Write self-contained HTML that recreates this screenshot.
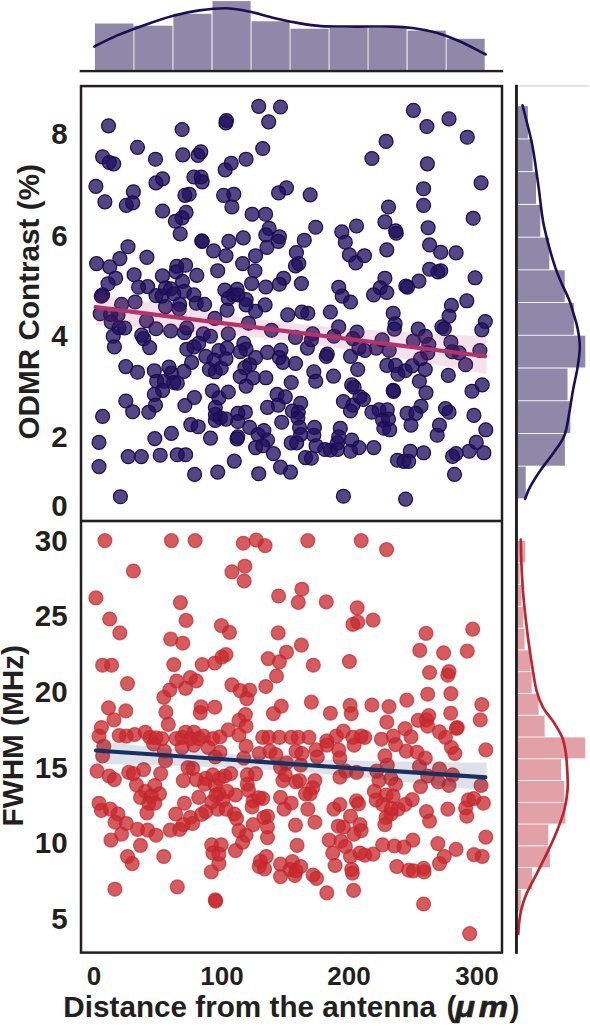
<!DOCTYPE html><html><head><meta charset="utf-8"><style>
html,body{margin:0;padding:0;background:#fff}body{width:590px;height:1026px;overflow:hidden}
svg{display:block}text{font-family:"Liberation Sans",sans-serif;font-weight:bold;fill:#231f20}
</style></head><body>
<svg width="590" height="1026" viewBox="0 0 590 1026">
<rect width="590" height="1026" fill="#fff"/>
<g fill="#8f88a9">
<rect x="94.9" y="23.5" width="38.6" height="47.0"/>
<rect x="134.4" y="25.7" width="38.1" height="44.8"/>
<rect x="173.4" y="13.8" width="38.1" height="56.7"/>
<rect x="212.5" y="1.1" width="38.1" height="69.4"/>
<rect x="251.5" y="21.3" width="38.1" height="49.2"/>
<rect x="290.5" y="28.7" width="38.1" height="41.8"/>
<rect x="329.5" y="28.0" width="38.1" height="42.5"/>
<rect x="368.5" y="28.0" width="38.1" height="42.5"/>
<rect x="407.6" y="30.6" width="38.1" height="39.9"/>
<rect x="446.6" y="38.8" width="38.1" height="31.7"/>
</g>
<path d="M94.2,46.6 C98.0,44.7 109.1,38.9 117.3,35.4 C125.5,31.9 134.1,28.7 143.4,25.4 C152.7,22.1 163.9,18.2 173.2,15.7 C182.5,13.2 190.6,11.7 199.3,10.4 C208.0,9.2 217.3,8.1 225.4,8.2 C233.5,8.3 239.7,9.6 247.8,11.2 C255.9,12.8 265.4,15.9 273.9,17.9 C282.4,19.9 290.8,21.7 298.6,23.1 C306.5,24.5 311.7,25.5 321.0,26.1 C330.3,26.7 342.8,26.5 354.6,26.6 C366.4,26.7 382.0,26.3 391.9,26.6 C401.8,26.9 406.8,27.3 414.2,28.3 C421.6,29.3 429.1,30.7 436.6,32.8 C444.1,34.9 450.8,37.4 459.0,41.0 C467.2,44.6 481.3,52.2 485.8,54.4" fill="none" stroke="#1b0f52" stroke-width="2.6" stroke-linecap="round"/>
<rect x="79.7" y="69.9" width="423.5" height="2.4" fill="#231f20"/>
<g fill="#8f88a9">
<rect x="517.5" y="106.2" width="10.4" height="32.3"/>
<rect x="517.5" y="139.4" width="15.1" height="31.8"/>
<rect x="517.5" y="172.1" width="18.5" height="31.8"/>
<rect x="517.5" y="204.9" width="22.8" height="31.8"/>
<rect x="517.5" y="237.6" width="31.8" height="31.8"/>
<rect x="517.5" y="270.3" width="47.2" height="31.8"/>
<rect x="517.5" y="303.0" width="56.4" height="31.8"/>
<rect x="517.5" y="335.7" width="67.8" height="31.8"/>
<rect x="517.5" y="368.5" width="50.0" height="31.8"/>
<rect x="517.5" y="401.2" width="52.8" height="31.8"/>
<rect x="517.5" y="433.9" width="47.4" height="31.8"/>
<rect x="517.5" y="466.6" width="8.2" height="31.8"/>
</g>
<path d="M522.5,105.3 C524.1,111.8 529.4,130.7 532.1,144.3 C534.8,157.9 536.6,173.5 538.6,187.1 C540.6,200.7 541.0,212.1 543.9,225.7 C546.8,239.3 551.6,256.5 555.7,268.6 C559.8,280.8 565.7,291.5 568.6,298.6 C571.5,305.7 571.4,306.4 572.9,311.4 C574.4,316.4 576.5,322.7 577.6,328.6 C578.8,334.5 579.8,340.6 579.8,347.0 C579.8,353.4 578.8,359.8 577.6,367.1 C576.5,374.4 574.3,382.8 572.9,390.7 C571.5,398.6 570.4,406.8 569.0,414.3 C567.6,421.8 566.9,429.3 564.3,435.7 C561.7,442.1 557.5,447.1 553.6,452.8 C549.7,458.5 544.6,464.3 540.7,470.0 C536.8,475.7 532.6,482.3 530.0,487.1 C527.4,491.9 525.9,496.9 525.1,498.9" fill="none" stroke="#1b0f52" stroke-width="2.6" stroke-linecap="round"/>
<g fill="#e2a1a6">
<rect x="517.5" y="541.0" width="7.8" height="21.4"/>
<rect x="517.5" y="563.3" width="2.2" height="20.9"/>
<rect x="517.5" y="585.0" width="3.9" height="20.9"/>
<rect x="517.5" y="606.8" width="5.6" height="20.9"/>
<rect x="517.5" y="628.6" width="7.1" height="20.9"/>
<rect x="517.5" y="650.4" width="12.9" height="20.9"/>
<rect x="517.5" y="672.1" width="14.2" height="20.9"/>
<rect x="517.5" y="693.9" width="21.1" height="20.9"/>
<rect x="517.5" y="715.7" width="27.1" height="20.9"/>
<rect x="517.5" y="737.4" width="67.8" height="20.9"/>
<rect x="517.5" y="759.2" width="43.6" height="20.9"/>
<rect x="517.5" y="781.0" width="46.8" height="20.9"/>
<rect x="517.5" y="802.7" width="47.9" height="20.9"/>
<rect x="517.5" y="824.5" width="30.7" height="20.9"/>
<rect x="517.5" y="846.3" width="32.4" height="20.9"/>
<rect x="517.5" y="868.0" width="14.6" height="20.9"/>
<rect x="517.5" y="889.8" width="3.3" height="20.9"/>
</g>
<path d="M520.8,539.7 C520.9,543.6 521.0,554.0 521.4,562.9 C521.8,571.8 522.4,583.6 523.1,592.9 C523.8,602.2 524.7,610.0 525.7,618.6 C526.7,627.2 527.8,636.4 528.9,644.3 C530.0,652.1 530.9,658.1 532.1,665.7 C533.4,673.3 534.6,683.1 536.4,690.0 C538.2,696.9 540.0,701.8 542.9,707.1 C545.8,712.5 550.4,717.1 553.6,722.1 C556.8,727.1 560.0,731.7 562.1,737.1 C564.2,742.5 565.1,747.9 566.0,754.3 C566.9,760.7 567.2,769.6 567.5,775.7 C567.8,781.8 568.0,785.0 567.5,790.7 C567.0,796.4 566.1,803.2 564.3,810.0 C562.5,816.8 559.7,824.2 556.8,831.4 C553.9,838.5 550.5,845.8 547.1,852.9 C543.7,860.0 540.0,867.2 536.4,874.3 C532.8,881.4 528.2,889.8 525.7,895.7 C523.2,901.7 522.3,905.6 521.2,910.0 C520.1,914.4 519.7,918.0 519.2,922.0 C518.7,926.0 518.4,932.0 518.3,934.0" fill="none" stroke="#bb2530" stroke-width="2.7" stroke-linecap="round"/>
<rect x="518" y="85.5" width="71" height="1" fill="#c9c9c9"/>
<rect x="515" y="84.8" width="2.9" height="869" fill="#231f20"/>
<g fill="#1e0f5c" fill-opacity="0.77" stroke="#1c0d55" stroke-opacity="1" stroke-width="1.25">
<circle cx="108.5" cy="125.8" r="6.95"/>
<circle cx="182.1" cy="129.5" r="6.95"/>
<circle cx="137.5" cy="147.3" r="6.95"/>
<circle cx="102.6" cy="156.8" r="6.95"/>
<circle cx="109.2" cy="162.5" r="6.95"/>
<circle cx="113.7" cy="163.8" r="6.95"/>
<circle cx="155.5" cy="159.2" r="6.95"/>
<circle cx="182.8" cy="154.9" r="6.95"/>
<circle cx="198.0" cy="155.4" r="6.95"/>
<circle cx="200.8" cy="151.8" r="6.95"/>
<circle cx="162.6" cy="178.8" r="6.95"/>
<circle cx="156.0" cy="182.9" r="6.95"/>
<circle cx="193.9" cy="177.0" r="6.95"/>
<circle cx="201.1" cy="177.0" r="6.95"/>
<circle cx="202.2" cy="181.8" r="6.95"/>
<circle cx="95.9" cy="186.3" r="6.95"/>
<circle cx="133.4" cy="191.8" r="6.95"/>
<circle cx="189.2" cy="194.2" r="6.95"/>
<circle cx="184.9" cy="195.3" r="6.95"/>
<circle cx="258.7" cy="106.3" r="6.95"/>
<circle cx="280.5" cy="107.0" r="6.95"/>
<circle cx="268.7" cy="121.8" r="6.95"/>
<circle cx="226.4" cy="120.5" r="6.95"/>
<circle cx="225.9" cy="122.8" r="6.95"/>
<circle cx="262.7" cy="148.5" r="6.95"/>
<circle cx="246.1" cy="159.2" r="6.95"/>
<circle cx="231.2" cy="163.2" r="6.95"/>
<circle cx="225.2" cy="169.9" r="6.95"/>
<circle cx="286.5" cy="187.8" r="6.95"/>
<circle cx="278.6" cy="192.9" r="6.95"/>
<circle cx="310.2" cy="194.8" r="6.95"/>
<circle cx="233.8" cy="194.2" r="6.95"/>
<circle cx="223.6" cy="195.3" r="6.95"/>
<circle cx="413.4" cy="110.3" r="6.95"/>
<circle cx="449.0" cy="118.9" r="6.95"/>
<circle cx="426.9" cy="126.5" r="6.95"/>
<circle cx="467.3" cy="137.2" r="6.95"/>
<circle cx="386.1" cy="141.4" r="6.95"/>
<circle cx="371.9" cy="158.5" r="6.95"/>
<circle cx="427.4" cy="163.8" r="6.95"/>
<circle cx="481.1" cy="182.8" r="6.95"/>
<circle cx="423.6" cy="188.7" r="6.95"/>
<circle cx="104.9" cy="201.8" r="6.95"/>
<circle cx="126.3" cy="205.3" r="6.95"/>
<circle cx="132.7" cy="202.9" r="6.95"/>
<circle cx="162.6" cy="211.0" r="6.95"/>
<circle cx="186.1" cy="212.4" r="6.95"/>
<circle cx="182.1" cy="217.8" r="6.95"/>
<circle cx="175.4" cy="221.2" r="6.95"/>
<circle cx="180.2" cy="233.8" r="6.95"/>
<circle cx="201.8" cy="240.9" r="6.95"/>
<circle cx="202.2" cy="241.5" r="6.95"/>
<circle cx="213.6" cy="250.9" r="6.95"/>
<circle cx="128.0" cy="246.7" r="6.95"/>
<circle cx="119.9" cy="258.6" r="6.95"/>
<circle cx="146.9" cy="257.4" r="6.95"/>
<circle cx="96.6" cy="263.6" r="6.95"/>
<circle cx="109.7" cy="266.9" r="6.95"/>
<circle cx="185.6" cy="265.2" r="6.95"/>
<circle cx="176.8" cy="266.4" r="6.95"/>
<circle cx="176.1" cy="271.9" r="6.95"/>
<circle cx="217.7" cy="270.7" r="6.95"/>
<circle cx="196.8" cy="275.4" r="6.95"/>
<circle cx="134.1" cy="274.7" r="6.95"/>
<circle cx="162.4" cy="275.9" r="6.95"/>
<circle cx="115.6" cy="278.2" r="6.95"/>
<circle cx="108.0" cy="283.7" r="6.95"/>
<circle cx="182.5" cy="281.4" r="6.95"/>
<circle cx="138.6" cy="287.2" r="6.95"/>
<circle cx="147.7" cy="286.6" r="6.95"/>
<circle cx="165.5" cy="287.8" r="6.95"/>
<circle cx="170.7" cy="288.9" r="6.95"/>
<circle cx="184.4" cy="291.2" r="6.95"/>
<circle cx="102.6" cy="294.9" r="6.95"/>
<circle cx="156.0" cy="295.6" r="6.95"/>
<circle cx="161.9" cy="296.1" r="6.95"/>
<circle cx="173.8" cy="293.7" r="6.95"/>
<circle cx="193.9" cy="294.9" r="6.95"/>
<circle cx="135.1" cy="302.0" r="6.95"/>
<circle cx="121.6" cy="304.4" r="6.95"/>
<circle cx="196.3" cy="303.2" r="6.95"/>
<circle cx="204.6" cy="304.4" r="6.95"/>
<circle cx="179.7" cy="304.4" r="6.95"/>
<circle cx="231.9" cy="207.0" r="6.95"/>
<circle cx="252.1" cy="214.2" r="6.95"/>
<circle cx="265.6" cy="214.2" r="6.95"/>
<circle cx="269.1" cy="228.3" r="6.95"/>
<circle cx="265.8" cy="234.8" r="6.95"/>
<circle cx="279.4" cy="236.7" r="6.95"/>
<circle cx="278.2" cy="241.4" r="6.95"/>
<circle cx="267.0" cy="247.3" r="6.95"/>
<circle cx="315.7" cy="227.2" r="6.95"/>
<circle cx="304.3" cy="240.2" r="6.95"/>
<circle cx="296.4" cy="252.5" r="6.95"/>
<circle cx="298.8" cy="263.6" r="6.95"/>
<circle cx="295.5" cy="265.9" r="6.95"/>
<circle cx="243.3" cy="237.8" r="6.95"/>
<circle cx="228.8" cy="241.4" r="6.95"/>
<circle cx="255.6" cy="255.7" r="6.95"/>
<circle cx="226.0" cy="255.7" r="6.95"/>
<circle cx="242.6" cy="263.6" r="6.95"/>
<circle cx="254.9" cy="270.7" r="6.95"/>
<circle cx="283.6" cy="278.2" r="6.95"/>
<circle cx="279.4" cy="284.2" r="6.95"/>
<circle cx="301.4" cy="283.5" r="6.95"/>
<circle cx="251.6" cy="283.5" r="6.95"/>
<circle cx="265.8" cy="287.0" r="6.95"/>
<circle cx="341.8" cy="231.9" r="6.95"/>
<circle cx="356.5" cy="226.0" r="6.95"/>
<circle cx="345.3" cy="242.2" r="6.95"/>
<circle cx="349.4" cy="254.9" r="6.95"/>
<circle cx="355.8" cy="262.8" r="6.95"/>
<circle cx="338.7" cy="287.2" r="6.95"/>
<circle cx="342.2" cy="296.1" r="6.95"/>
<circle cx="350.5" cy="302.0" r="6.95"/>
<circle cx="237.1" cy="289.4" r="6.95"/>
<circle cx="224.8" cy="290.1" r="6.95"/>
<circle cx="233.1" cy="294.9" r="6.95"/>
<circle cx="228.3" cy="298.4" r="6.95"/>
<circle cx="237.8" cy="294.9" r="6.95"/>
<circle cx="246.1" cy="299.6" r="6.95"/>
<circle cx="246.1" cy="304.9" r="6.95"/>
<circle cx="265.1" cy="304.9" r="6.95"/>
<circle cx="388.5" cy="207.0" r="6.95"/>
<circle cx="423.6" cy="205.3" r="6.95"/>
<circle cx="473.2" cy="218.2" r="6.95"/>
<circle cx="384.9" cy="221.9" r="6.95"/>
<circle cx="395.6" cy="230.8" r="6.95"/>
<circle cx="396.3" cy="233.2" r="6.95"/>
<circle cx="428.1" cy="227.7" r="6.95"/>
<circle cx="429.6" cy="244.9" r="6.95"/>
<circle cx="440.7" cy="252.2" r="6.95"/>
<circle cx="456.1" cy="252.8" r="6.95"/>
<circle cx="386.8" cy="249.8" r="6.95"/>
<circle cx="364.4" cy="255.7" r="6.95"/>
<circle cx="429.6" cy="269.2" r="6.95"/>
<circle cx="437.9" cy="271.9" r="6.95"/>
<circle cx="440.7" cy="270.7" r="6.95"/>
<circle cx="475.1" cy="277.8" r="6.95"/>
<circle cx="384.9" cy="278.2" r="6.95"/>
<circle cx="418.9" cy="281.1" r="6.95"/>
<circle cx="405.8" cy="286.1" r="6.95"/>
<circle cx="407.5" cy="287.1" r="6.95"/>
<circle cx="380.2" cy="287.8" r="6.95"/>
<circle cx="386.8" cy="292.5" r="6.95"/>
<circle cx="373.6" cy="294.9" r="6.95"/>
<circle cx="466.8" cy="300.8" r="6.95"/>
<circle cx="451.4" cy="305.4" r="6.95"/>
<circle cx="100.2" cy="313.7" r="6.95"/>
<circle cx="111.2" cy="322.1" r="6.95"/>
<circle cx="118.0" cy="314.9" r="6.95"/>
<circle cx="119.1" cy="327.8" r="6.95"/>
<circle cx="124.7" cy="328.0" r="6.95"/>
<circle cx="113.2" cy="336.2" r="6.95"/>
<circle cx="114.4" cy="346.9" r="6.95"/>
<circle cx="146.5" cy="320.8" r="6.95"/>
<circle cx="156.0" cy="328.7" r="6.95"/>
<circle cx="141.7" cy="335.1" r="6.95"/>
<circle cx="143.6" cy="338.6" r="6.95"/>
<circle cx="149.6" cy="347.6" r="6.95"/>
<circle cx="170.7" cy="331.0" r="6.95"/>
<circle cx="186.8" cy="327.9" r="6.95"/>
<circle cx="184.4" cy="332.7" r="6.95"/>
<circle cx="203.4" cy="333.9" r="6.95"/>
<circle cx="210.5" cy="336.2" r="6.95"/>
<circle cx="214.8" cy="318.4" r="6.95"/>
<circle cx="186.8" cy="349.2" r="6.95"/>
<circle cx="193.9" cy="346.9" r="6.95"/>
<circle cx="198.7" cy="343.4" r="6.95"/>
<circle cx="205.8" cy="356.4" r="6.95"/>
<circle cx="191.6" cy="362.4" r="6.95"/>
<circle cx="214.1" cy="360.0" r="6.95"/>
<circle cx="218.9" cy="350.5" r="6.95"/>
<circle cx="125.8" cy="366.6" r="6.95"/>
<circle cx="137.5" cy="372.2" r="6.95"/>
<circle cx="154.3" cy="370.7" r="6.95"/>
<circle cx="169.0" cy="367.1" r="6.95"/>
<circle cx="171.4" cy="373.0" r="6.95"/>
<circle cx="184.0" cy="371.4" r="6.95"/>
<circle cx="156.7" cy="381.2" r="6.95"/>
<circle cx="164.3" cy="381.2" r="6.95"/>
<circle cx="173.8" cy="382.5" r="6.95"/>
<circle cx="177.3" cy="383.2" r="6.95"/>
<circle cx="162.6" cy="390.4" r="6.95"/>
<circle cx="154.3" cy="394.4" r="6.95"/>
<circle cx="125.8" cy="401.0" r="6.95"/>
<circle cx="132.7" cy="411.7" r="6.95"/>
<circle cx="155.5" cy="405.1" r="6.95"/>
<circle cx="148.8" cy="412.2" r="6.95"/>
<circle cx="194.4" cy="397.5" r="6.95"/>
<circle cx="184.9" cy="405.5" r="6.95"/>
<circle cx="212.4" cy="390.8" r="6.95"/>
<circle cx="209.4" cy="369.5" r="6.95"/>
<circle cx="215.3" cy="371.8" r="6.95"/>
<circle cx="221.2" cy="368.2" r="6.95"/>
<circle cx="215.3" cy="407.4" r="6.95"/>
<circle cx="218.9" cy="397.9" r="6.95"/>
<circle cx="102.6" cy="416.4" r="6.95"/>
<circle cx="165.5" cy="306.6" r="6.95"/>
<circle cx="179.2" cy="309.0" r="6.95"/>
<circle cx="227.1" cy="310.1" r="6.95"/>
<circle cx="255.6" cy="311.2" r="6.95"/>
<circle cx="287.7" cy="314.9" r="6.95"/>
<circle cx="301.9" cy="312.0" r="6.95"/>
<circle cx="307.8" cy="313.2" r="6.95"/>
<circle cx="330.4" cy="312.0" r="6.95"/>
<circle cx="248.5" cy="323.2" r="6.95"/>
<circle cx="228.3" cy="333.9" r="6.95"/>
<circle cx="271.5" cy="330.2" r="6.95"/>
<circle cx="295.5" cy="337.4" r="6.95"/>
<circle cx="312.6" cy="333.9" r="6.95"/>
<circle cx="311.4" cy="339.8" r="6.95"/>
<circle cx="307.4" cy="348.1" r="6.95"/>
<circle cx="338.7" cy="326.8" r="6.95"/>
<circle cx="333.9" cy="336.2" r="6.95"/>
<circle cx="357.0" cy="332.0" r="6.95"/>
<circle cx="352.9" cy="338.6" r="6.95"/>
<circle cx="327.3" cy="354.0" r="6.95"/>
<circle cx="326.3" cy="356.4" r="6.95"/>
<circle cx="350.5" cy="356.4" r="6.95"/>
<circle cx="358.9" cy="348.1" r="6.95"/>
<circle cx="243.8" cy="343.4" r="6.95"/>
<circle cx="246.1" cy="349.2" r="6.95"/>
<circle cx="240.2" cy="351.7" r="6.95"/>
<circle cx="227.1" cy="348.1" r="6.95"/>
<circle cx="226.0" cy="358.8" r="6.95"/>
<circle cx="267.5" cy="352.4" r="6.95"/>
<circle cx="281.0" cy="350.0" r="6.95"/>
<circle cx="279.4" cy="357.6" r="6.95"/>
<circle cx="282.9" cy="362.4" r="6.95"/>
<circle cx="295.5" cy="363.5" r="6.95"/>
<circle cx="255.6" cy="357.6" r="6.95"/>
<circle cx="249.7" cy="364.7" r="6.95"/>
<circle cx="244.9" cy="367.6" r="6.95"/>
<circle cx="240.2" cy="376.6" r="6.95"/>
<circle cx="253.2" cy="377.8" r="6.95"/>
<circle cx="265.8" cy="377.8" r="6.95"/>
<circle cx="246.1" cy="386.1" r="6.95"/>
<circle cx="291.2" cy="382.5" r="6.95"/>
<circle cx="313.8" cy="371.8" r="6.95"/>
<circle cx="315.7" cy="381.2" r="6.95"/>
<circle cx="333.5" cy="376.1" r="6.95"/>
<circle cx="357.7" cy="369.5" r="6.95"/>
<circle cx="351.7" cy="384.9" r="6.95"/>
<circle cx="354.1" cy="387.2" r="6.95"/>
<circle cx="228.3" cy="392.0" r="6.95"/>
<circle cx="277.0" cy="394.4" r="6.95"/>
<circle cx="285.3" cy="396.8" r="6.95"/>
<circle cx="278.2" cy="405.1" r="6.95"/>
<circle cx="267.5" cy="407.4" r="6.95"/>
<circle cx="300.7" cy="403.2" r="6.95"/>
<circle cx="292.4" cy="411.0" r="6.95"/>
<circle cx="298.3" cy="412.2" r="6.95"/>
<circle cx="343.4" cy="401.5" r="6.95"/>
<circle cx="352.9" cy="405.1" r="6.95"/>
<circle cx="350.5" cy="411.0" r="6.95"/>
<circle cx="360.0" cy="396.8" r="6.95"/>
<circle cx="245.4" cy="412.2" r="6.95"/>
<circle cx="237.8" cy="413.4" r="6.95"/>
<circle cx="393.2" cy="313.2" r="6.95"/>
<circle cx="395.1" cy="323.9" r="6.95"/>
<circle cx="394.4" cy="329.1" r="6.95"/>
<circle cx="382.1" cy="339.8" r="6.95"/>
<circle cx="376.2" cy="348.1" r="6.95"/>
<circle cx="389.2" cy="350.5" r="6.95"/>
<circle cx="364.8" cy="350.5" r="6.95"/>
<circle cx="418.2" cy="329.1" r="6.95"/>
<circle cx="425.3" cy="336.2" r="6.95"/>
<circle cx="413.4" cy="341.0" r="6.95"/>
<circle cx="428.8" cy="344.6" r="6.95"/>
<circle cx="427.7" cy="352.9" r="6.95"/>
<circle cx="420.5" cy="358.8" r="6.95"/>
<circle cx="441.9" cy="326.8" r="6.95"/>
<circle cx="444.3" cy="328.7" r="6.95"/>
<circle cx="449.0" cy="316.1" r="6.95"/>
<circle cx="450.9" cy="342.2" r="6.95"/>
<circle cx="452.1" cy="351.7" r="6.95"/>
<circle cx="459.2" cy="352.9" r="6.95"/>
<circle cx="465.6" cy="364.7" r="6.95"/>
<circle cx="479.9" cy="350.5" r="6.95"/>
<circle cx="485.3" cy="321.5" r="6.95"/>
<circle cx="481.8" cy="329.8" r="6.95"/>
<circle cx="386.8" cy="365.4" r="6.95"/>
<circle cx="395.6" cy="365.4" r="6.95"/>
<circle cx="398.0" cy="374.2" r="6.95"/>
<circle cx="405.1" cy="370.7" r="6.95"/>
<circle cx="412.2" cy="365.9" r="6.95"/>
<circle cx="425.3" cy="369.5" r="6.95"/>
<circle cx="419.4" cy="381.2" r="6.95"/>
<circle cx="426.0" cy="392.7" r="6.95"/>
<circle cx="448.3" cy="375.4" r="6.95"/>
<circle cx="393.2" cy="390.4" r="6.95"/>
<circle cx="393.6" cy="391.4" r="6.95"/>
<circle cx="482.2" cy="384.9" r="6.95"/>
<circle cx="472.0" cy="391.2" r="6.95"/>
<circle cx="421.0" cy="406.2" r="6.95"/>
<circle cx="445.5" cy="408.6" r="6.95"/>
<circle cx="449.0" cy="412.2" r="6.95"/>
<circle cx="387.3" cy="409.8" r="6.95"/>
<circle cx="379.0" cy="409.8" r="6.95"/>
<circle cx="371.9" cy="412.2" r="6.95"/>
<circle cx="363.4" cy="399.4" r="6.95"/>
<circle cx="407.0" cy="413.4" r="6.95"/>
<circle cx="415.8" cy="413.4" r="6.95"/>
<circle cx="473.9" cy="415.4" r="6.95"/>
<circle cx="99.0" cy="442.4" r="6.95"/>
<circle cx="99.0" cy="466.6" r="6.95"/>
<circle cx="128.2" cy="456.6" r="6.95"/>
<circle cx="141.3" cy="456.6" r="6.95"/>
<circle cx="154.8" cy="438.6" r="6.95"/>
<circle cx="171.4" cy="433.4" r="6.95"/>
<circle cx="160.2" cy="455.2" r="6.95"/>
<circle cx="177.3" cy="454.7" r="6.95"/>
<circle cx="185.6" cy="454.7" r="6.95"/>
<circle cx="190.8" cy="424.6" r="6.95"/>
<circle cx="198.2" cy="426.7" r="6.95"/>
<circle cx="210.5" cy="438.1" r="6.95"/>
<circle cx="215.3" cy="420.4" r="6.95"/>
<circle cx="215.4" cy="414.4" r="6.95"/>
<circle cx="220.4" cy="417.9" r="6.95"/>
<circle cx="194.6" cy="474.4" r="6.95"/>
<circle cx="217.7" cy="472.1" r="6.95"/>
<circle cx="120.4" cy="496.7" r="6.95"/>
<circle cx="226.0" cy="419.1" r="6.95"/>
<circle cx="237.8" cy="421.5" r="6.95"/>
<circle cx="249.7" cy="427.4" r="6.95"/>
<circle cx="237.8" cy="436.9" r="6.95"/>
<circle cx="237.0" cy="438.9" r="6.95"/>
<circle cx="258.0" cy="434.6" r="6.95"/>
<circle cx="263.9" cy="430.5" r="6.95"/>
<circle cx="267.5" cy="440.0" r="6.95"/>
<circle cx="255.6" cy="447.6" r="6.95"/>
<circle cx="262.7" cy="445.7" r="6.95"/>
<circle cx="273.4" cy="453.6" r="6.95"/>
<circle cx="281.7" cy="422.2" r="6.95"/>
<circle cx="297.9" cy="418.0" r="6.95"/>
<circle cx="299.5" cy="427.4" r="6.95"/>
<circle cx="300.7" cy="434.6" r="6.95"/>
<circle cx="291.2" cy="442.9" r="6.95"/>
<circle cx="296.7" cy="442.9" r="6.95"/>
<circle cx="314.5" cy="427.4" r="6.95"/>
<circle cx="313.8" cy="435.2" r="6.95"/>
<circle cx="316.1" cy="445.7" r="6.95"/>
<circle cx="305.5" cy="457.6" r="6.95"/>
<circle cx="311.4" cy="458.2" r="6.95"/>
<circle cx="324.9" cy="449.5" r="6.95"/>
<circle cx="330.4" cy="450.0" r="6.95"/>
<circle cx="337.5" cy="449.5" r="6.95"/>
<circle cx="337.5" cy="442.9" r="6.95"/>
<circle cx="340.3" cy="428.2" r="6.95"/>
<circle cx="338.7" cy="436.9" r="6.95"/>
<circle cx="351.7" cy="440.0" r="6.95"/>
<circle cx="350.5" cy="451.2" r="6.95"/>
<circle cx="358.9" cy="447.6" r="6.95"/>
<circle cx="234.3" cy="461.1" r="6.95"/>
<circle cx="258.7" cy="473.7" r="6.95"/>
<circle cx="280.5" cy="467.1" r="6.95"/>
<circle cx="290.5" cy="472.1" r="6.95"/>
<circle cx="343.4" cy="496.2" r="6.95"/>
<circle cx="382.6" cy="420.2" r="6.95"/>
<circle cx="388.5" cy="419.1" r="6.95"/>
<circle cx="383.8" cy="428.2" r="6.95"/>
<circle cx="389.7" cy="429.8" r="6.95"/>
<circle cx="411.0" cy="425.1" r="6.95"/>
<circle cx="439.5" cy="425.1" r="6.95"/>
<circle cx="437.2" cy="435.2" r="6.95"/>
<circle cx="485.8" cy="429.8" r="6.95"/>
<circle cx="476.3" cy="442.4" r="6.95"/>
<circle cx="469.2" cy="451.2" r="6.95"/>
<circle cx="483.9" cy="452.8" r="6.95"/>
<circle cx="456.1" cy="453.6" r="6.95"/>
<circle cx="452.6" cy="456.4" r="6.95"/>
<circle cx="373.8" cy="447.6" r="6.95"/>
<circle cx="410.3" cy="451.2" r="6.95"/>
<circle cx="423.6" cy="452.8" r="6.95"/>
<circle cx="397.5" cy="460.2" r="6.95"/>
<circle cx="403.9" cy="461.4" r="6.95"/>
<circle cx="408.7" cy="461.4" r="6.95"/>
<circle cx="454.5" cy="474.4" r="6.95"/>
<circle cx="405.6" cy="499.1" r="6.95"/>
<circle cx="101.3" cy="296.1" r="6.95"/>
<circle cx="110.6" cy="314.4" r="6.95"/>
</g>
<polygon points="96.0,293.4 112.3,296.3 128.5,299.1 144.8,301.9 161.1,304.7 177.3,307.3 193.6,310.0 209.9,312.5 226.1,314.9 242.4,317.2 258.7,319.3 274.9,321.3 291.2,323.2 307.5,324.8 323.7,326.3 340.0,327.7 356.3,328.9 372.5,330.1 388.8,331.1 405.1,332.1 421.3,333.1 437.6,334.0 453.9,334.8 470.1,335.7 486.4,336.5 486.4,374.1 470.1,371.1 453.9,368.1 437.6,365.1 421.3,362.2 405.1,359.3 388.8,356.4 372.5,353.6 356.3,350.9 340.0,348.3 323.7,345.9 307.5,343.5 291.2,341.3 274.9,339.3 258.7,337.5 242.4,335.8 226.1,334.2 209.9,332.8 193.6,331.5 177.3,330.3 161.1,329.1 144.8,328.0 128.5,327.0 112.3,326.0 96.0,325.0" fill="#b5336a" fill-opacity="0.15"/>
<line x1="95.6" y1="307.1" x2="485.2" y2="356.3" stroke="#b3346b" stroke-width="4.1" stroke-linecap="round"/>
<g fill="#c8282d" fill-opacity="0.76" stroke="#c0262e" stroke-opacity="0.7" stroke-width="1.25">
<circle cx="104.9" cy="540.6" r="6.95"/>
<circle cx="171.4" cy="540.6" r="6.95"/>
<circle cx="195.1" cy="540.6" r="6.95"/>
<circle cx="133.4" cy="571.0" r="6.95"/>
<circle cx="95.9" cy="597.9" r="6.95"/>
<circle cx="180.4" cy="602.6" r="6.95"/>
<circle cx="109.7" cy="619.0" r="6.95"/>
<circle cx="186.1" cy="620.4" r="6.95"/>
<circle cx="221.4" cy="625.6" r="6.95"/>
<circle cx="119.8" cy="632.9" r="6.95"/>
<circle cx="243.3" cy="543.2" r="6.95"/>
<circle cx="256.3" cy="540.1" r="6.95"/>
<circle cx="265.1" cy="545.6" r="6.95"/>
<circle cx="307.8" cy="540.6" r="6.95"/>
<circle cx="361.2" cy="540.6" r="6.95"/>
<circle cx="244.9" cy="566.2" r="6.95"/>
<circle cx="231.9" cy="571.8" r="6.95"/>
<circle cx="244.2" cy="581.0" r="6.95"/>
<circle cx="301.9" cy="589.2" r="6.95"/>
<circle cx="278.6" cy="596.0" r="6.95"/>
<circle cx="298.3" cy="602.4" r="6.95"/>
<circle cx="326.3" cy="601.9" r="6.95"/>
<circle cx="357.2" cy="607.8" r="6.95"/>
<circle cx="357.7" cy="622.1" r="6.95"/>
<circle cx="352.9" cy="624.4" r="6.95"/>
<circle cx="229.5" cy="632.4" r="6.95"/>
<circle cx="278.2" cy="632.9" r="6.95"/>
<circle cx="386.6" cy="549.6" r="6.95"/>
<circle cx="373.1" cy="620.1" r="6.95"/>
<circle cx="426.0" cy="633.4" r="6.95"/>
<circle cx="472.7" cy="629.1" r="6.95"/>
<circle cx="170.7" cy="639.1" r="6.95"/>
<circle cx="182.8" cy="643.2" r="6.95"/>
<circle cx="102.6" cy="665.2" r="6.95"/>
<circle cx="111.6" cy="665.2" r="6.95"/>
<circle cx="173.8" cy="664.6" r="6.95"/>
<circle cx="202.2" cy="664.6" r="6.95"/>
<circle cx="214.8" cy="663.0" r="6.95"/>
<circle cx="221.9" cy="657.1" r="6.95"/>
<circle cx="127.5" cy="683.6" r="6.95"/>
<circle cx="176.6" cy="681.1" r="6.95"/>
<circle cx="190.4" cy="677.6" r="6.95"/>
<circle cx="196.3" cy="680.8" r="6.95"/>
<circle cx="185.6" cy="688.4" r="6.95"/>
<circle cx="169.7" cy="690.0" r="6.95"/>
<circle cx="163.8" cy="697.4" r="6.95"/>
<circle cx="108.5" cy="707.8" r="6.95"/>
<circle cx="125.8" cy="710.9" r="6.95"/>
<circle cx="114.0" cy="719.9" r="6.95"/>
<circle cx="165.9" cy="712.1" r="6.95"/>
<circle cx="168.3" cy="724.4" r="6.95"/>
<circle cx="201.1" cy="706.9" r="6.95"/>
<circle cx="200.3" cy="712.8" r="6.95"/>
<circle cx="214.8" cy="707.2" r="6.95"/>
<circle cx="101.4" cy="727.5" r="6.95"/>
<circle cx="99.0" cy="736.1" r="6.95"/>
<circle cx="119.2" cy="735.5" r="6.95"/>
<circle cx="126.3" cy="736.1" r="6.95"/>
<circle cx="134.6" cy="734.5" r="6.95"/>
<circle cx="145.3" cy="732.2" r="6.95"/>
<circle cx="150.0" cy="737.4" r="6.95"/>
<circle cx="161.9" cy="738.6" r="6.95"/>
<circle cx="176.1" cy="738.6" r="6.95"/>
<circle cx="185.6" cy="732.2" r="6.95"/>
<circle cx="193.9" cy="732.2" r="6.95"/>
<circle cx="203.4" cy="736.1" r="6.95"/>
<circle cx="212.9" cy="738.6" r="6.95"/>
<circle cx="220.0" cy="736.9" r="6.95"/>
<circle cx="301.4" cy="645.1" r="6.95"/>
<circle cx="286.5" cy="652.2" r="6.95"/>
<circle cx="268.2" cy="658.6" r="6.95"/>
<circle cx="279.4" cy="661.8" r="6.95"/>
<circle cx="226.0" cy="654.6" r="6.95"/>
<circle cx="313.3" cy="665.2" r="6.95"/>
<circle cx="349.4" cy="661.5" r="6.95"/>
<circle cx="276.5" cy="676.0" r="6.95"/>
<circle cx="265.8" cy="686.5" r="6.95"/>
<circle cx="231.9" cy="684.8" r="6.95"/>
<circle cx="240.2" cy="690.6" r="6.95"/>
<circle cx="249.7" cy="690.2" r="6.95"/>
<circle cx="246.8" cy="698.6" r="6.95"/>
<circle cx="311.4" cy="702.1" r="6.95"/>
<circle cx="281.3" cy="706.1" r="6.95"/>
<circle cx="273.4" cy="713.6" r="6.95"/>
<circle cx="330.4" cy="713.2" r="6.95"/>
<circle cx="350.1" cy="705.4" r="6.95"/>
<circle cx="351.3" cy="713.6" r="6.95"/>
<circle cx="245.4" cy="714.5" r="6.95"/>
<circle cx="239.0" cy="720.4" r="6.95"/>
<circle cx="246.1" cy="726.2" r="6.95"/>
<circle cx="228.3" cy="729.9" r="6.95"/>
<circle cx="239.0" cy="735.0" r="6.95"/>
<circle cx="262.7" cy="737.4" r="6.95"/>
<circle cx="268.7" cy="737.4" r="6.95"/>
<circle cx="279.4" cy="737.4" r="6.95"/>
<circle cx="291.2" cy="737.4" r="6.95"/>
<circle cx="298.3" cy="737.4" r="6.95"/>
<circle cx="309.0" cy="737.4" r="6.95"/>
<circle cx="326.8" cy="740.9" r="6.95"/>
<circle cx="336.3" cy="736.1" r="6.95"/>
<circle cx="343.4" cy="731.1" r="6.95"/>
<circle cx="352.9" cy="737.4" r="6.95"/>
<circle cx="361.2" cy="736.1" r="6.95"/>
<circle cx="419.8" cy="650.4" r="6.95"/>
<circle cx="443.6" cy="652.8" r="6.95"/>
<circle cx="467.3" cy="651.1" r="6.95"/>
<circle cx="429.6" cy="672.5" r="6.95"/>
<circle cx="449.0" cy="671.6" r="6.95"/>
<circle cx="447.8" cy="675.2" r="6.95"/>
<circle cx="427.7" cy="694.2" r="6.95"/>
<circle cx="450.9" cy="693.6" r="6.95"/>
<circle cx="406.8" cy="700.1" r="6.95"/>
<circle cx="371.9" cy="705.0" r="6.95"/>
<circle cx="389.0" cy="706.6" r="6.95"/>
<circle cx="481.8" cy="704.5" r="6.95"/>
<circle cx="480.3" cy="719.9" r="6.95"/>
<circle cx="450.7" cy="713.2" r="6.95"/>
<circle cx="428.8" cy="715.6" r="6.95"/>
<circle cx="418.2" cy="720.4" r="6.95"/>
<circle cx="426.5" cy="719.9" r="6.95"/>
<circle cx="427.7" cy="726.2" r="6.95"/>
<circle cx="386.8" cy="722.1" r="6.95"/>
<circle cx="405.1" cy="728.6" r="6.95"/>
<circle cx="457.3" cy="727.5" r="6.95"/>
<circle cx="456.4" cy="728.4" r="6.95"/>
<circle cx="439.5" cy="731.8" r="6.95"/>
<circle cx="445.5" cy="737.4" r="6.95"/>
<circle cx="411.0" cy="736.9" r="6.95"/>
<circle cx="393.2" cy="736.1" r="6.95"/>
<circle cx="381.4" cy="739.2" r="6.95"/>
<circle cx="364.8" cy="737.4" r="6.95"/>
<circle cx="103.8" cy="746.2" r="6.95"/>
<circle cx="102.6" cy="755.8" r="6.95"/>
<circle cx="97.1" cy="771.1" r="6.95"/>
<circle cx="109.2" cy="776.0" r="6.95"/>
<circle cx="114.4" cy="779.6" r="6.95"/>
<circle cx="128.7" cy="772.4" r="6.95"/>
<circle cx="133.4" cy="773.6" r="6.95"/>
<circle cx="143.6" cy="769.6" r="6.95"/>
<circle cx="136.5" cy="784.8" r="6.95"/>
<circle cx="160.7" cy="773.6" r="6.95"/>
<circle cx="164.3" cy="751.1" r="6.95"/>
<circle cx="165.5" cy="760.6" r="6.95"/>
<circle cx="154.8" cy="785.5" r="6.95"/>
<circle cx="145.3" cy="791.4" r="6.95"/>
<circle cx="159.5" cy="793.8" r="6.95"/>
<circle cx="140.5" cy="797.4" r="6.95"/>
<circle cx="151.2" cy="796.1" r="6.95"/>
<circle cx="148.8" cy="803.2" r="6.95"/>
<circle cx="154.8" cy="803.2" r="6.95"/>
<circle cx="146.9" cy="812.8" r="6.95"/>
<circle cx="99.0" cy="803.2" r="6.95"/>
<circle cx="101.4" cy="810.4" r="6.95"/>
<circle cx="110.4" cy="809.1" r="6.95"/>
<circle cx="118.0" cy="814.0" r="6.95"/>
<circle cx="115.1" cy="822.2" r="6.95"/>
<circle cx="126.3" cy="823.5" r="6.95"/>
<circle cx="121.6" cy="834.1" r="6.95"/>
<circle cx="110.9" cy="840.1" r="6.95"/>
<circle cx="137.5" cy="829.4" r="6.95"/>
<circle cx="147.7" cy="830.1" r="6.95"/>
<circle cx="156.0" cy="835.2" r="6.95"/>
<circle cx="140.5" cy="845.4" r="6.95"/>
<circle cx="170.2" cy="830.1" r="6.95"/>
<circle cx="175.7" cy="814.0" r="6.95"/>
<circle cx="184.4" cy="803.2" r="6.95"/>
<circle cx="190.4" cy="817.5" r="6.95"/>
<circle cx="183.3" cy="824.6" r="6.95"/>
<circle cx="179.7" cy="829.4" r="6.95"/>
<circle cx="192.7" cy="823.5" r="6.95"/>
<circle cx="183.3" cy="780.6" r="6.95"/>
<circle cx="192.7" cy="768.4" r="6.95"/>
<circle cx="188.0" cy="767.6" r="6.95"/>
<circle cx="198.7" cy="797.4" r="6.95"/>
<circle cx="205.8" cy="778.4" r="6.95"/>
<circle cx="204.6" cy="784.2" r="6.95"/>
<circle cx="212.9" cy="774.8" r="6.95"/>
<circle cx="215.3" cy="785.5" r="6.95"/>
<circle cx="218.9" cy="793.8" r="6.95"/>
<circle cx="211.7" cy="802.1" r="6.95"/>
<circle cx="205.8" cy="811.6" r="6.95"/>
<circle cx="217.7" cy="809.1" r="6.95"/>
<circle cx="211.7" cy="844.8" r="6.95"/>
<circle cx="221.2" cy="844.8" r="6.95"/>
<circle cx="182.1" cy="747.5" r="6.95"/>
<circle cx="193.9" cy="745.1" r="6.95"/>
<circle cx="208.2" cy="747.5" r="6.95"/>
<circle cx="215.3" cy="757.0" r="6.95"/>
<circle cx="220.0" cy="752.2" r="6.95"/>
<circle cx="153.6" cy="744.0" r="6.95"/>
<circle cx="196.3" cy="779.6" r="6.95"/>
<circle cx="246.1" cy="746.2" r="6.95"/>
<circle cx="243.8" cy="758.1" r="6.95"/>
<circle cx="259.2" cy="753.5" r="6.95"/>
<circle cx="269.9" cy="751.1" r="6.95"/>
<circle cx="275.8" cy="754.6" r="6.95"/>
<circle cx="296.0" cy="751.1" r="6.95"/>
<circle cx="301.9" cy="753.5" r="6.95"/>
<circle cx="316.1" cy="749.9" r="6.95"/>
<circle cx="317.3" cy="757.0" r="6.95"/>
<circle cx="326.8" cy="745.1" r="6.95"/>
<circle cx="338.7" cy="749.9" r="6.95"/>
<circle cx="339.9" cy="758.1" r="6.95"/>
<circle cx="354.1" cy="745.1" r="6.95"/>
<circle cx="300.7" cy="765.2" r="6.95"/>
<circle cx="280.5" cy="767.6" r="6.95"/>
<circle cx="286.5" cy="762.9" r="6.95"/>
<circle cx="230.7" cy="773.6" r="6.95"/>
<circle cx="224.8" cy="776.0" r="6.95"/>
<circle cx="247.3" cy="774.8" r="6.95"/>
<circle cx="255.6" cy="773.6" r="6.95"/>
<circle cx="247.3" cy="784.2" r="6.95"/>
<circle cx="248.5" cy="790.1" r="6.95"/>
<circle cx="227.1" cy="791.4" r="6.95"/>
<circle cx="235.5" cy="795.0" r="6.95"/>
<circle cx="253.2" cy="800.9" r="6.95"/>
<circle cx="262.7" cy="798.5" r="6.95"/>
<circle cx="252.1" cy="806.8" r="6.95"/>
<circle cx="282.9" cy="780.6" r="6.95"/>
<circle cx="285.3" cy="774.8" r="6.95"/>
<circle cx="296.0" cy="781.9" r="6.95"/>
<circle cx="299.5" cy="780.6" r="6.95"/>
<circle cx="314.9" cy="780.6" r="6.95"/>
<circle cx="312.6" cy="787.9" r="6.95"/>
<circle cx="305.5" cy="793.8" r="6.95"/>
<circle cx="310.2" cy="793.8" r="6.95"/>
<circle cx="280.5" cy="797.4" r="6.95"/>
<circle cx="291.2" cy="803.2" r="6.95"/>
<circle cx="284.1" cy="809.1" r="6.95"/>
<circle cx="307.8" cy="809.1" r="6.95"/>
<circle cx="339.9" cy="777.1" r="6.95"/>
<circle cx="345.8" cy="771.1" r="6.95"/>
<circle cx="356.5" cy="772.4" r="6.95"/>
<circle cx="333.9" cy="809.1" r="6.95"/>
<circle cx="339.9" cy="804.5" r="6.95"/>
<circle cx="356.5" cy="800.9" r="6.95"/>
<circle cx="350.5" cy="816.2" r="6.95"/>
<circle cx="343.4" cy="827.0" r="6.95"/>
<circle cx="360.0" cy="824.6" r="6.95"/>
<circle cx="314.9" cy="822.2" r="6.95"/>
<circle cx="295.5" cy="825.1" r="6.95"/>
<circle cx="267.5" cy="816.2" r="6.95"/>
<circle cx="263.9" cy="817.5" r="6.95"/>
<circle cx="267.5" cy="827.0" r="6.95"/>
<circle cx="253.2" cy="824.6" r="6.95"/>
<circle cx="267.5" cy="837.6" r="6.95"/>
<circle cx="234.3" cy="814.0" r="6.95"/>
<circle cx="236.6" cy="818.6" r="6.95"/>
<circle cx="226.0" cy="809.1" r="6.95"/>
<circle cx="239.0" cy="830.6" r="6.95"/>
<circle cx="246.1" cy="835.2" r="6.95"/>
<circle cx="242.6" cy="842.4" r="6.95"/>
<circle cx="297.1" cy="845.4" r="6.95"/>
<circle cx="329.2" cy="840.1" r="6.95"/>
<circle cx="341.0" cy="841.2" r="6.95"/>
<circle cx="354.1" cy="834.1" r="6.95"/>
<circle cx="361.2" cy="830.6" r="6.95"/>
<circle cx="395.6" cy="744.6" r="6.95"/>
<circle cx="384.9" cy="755.8" r="6.95"/>
<circle cx="406.3" cy="751.1" r="6.95"/>
<circle cx="417.0" cy="752.2" r="6.95"/>
<circle cx="425.3" cy="758.1" r="6.95"/>
<circle cx="419.4" cy="766.5" r="6.95"/>
<circle cx="387.3" cy="765.2" r="6.95"/>
<circle cx="451.4" cy="747.5" r="6.95"/>
<circle cx="454.9" cy="753.5" r="6.95"/>
<circle cx="485.8" cy="749.9" r="6.95"/>
<circle cx="439.5" cy="768.9" r="6.95"/>
<circle cx="452.6" cy="774.8" r="6.95"/>
<circle cx="427.7" cy="776.0" r="6.95"/>
<circle cx="438.3" cy="781.9" r="6.95"/>
<circle cx="449.0" cy="785.5" r="6.95"/>
<circle cx="481.1" cy="785.5" r="6.95"/>
<circle cx="420.5" cy="786.6" r="6.95"/>
<circle cx="376.6" cy="771.1" r="6.95"/>
<circle cx="379.0" cy="780.6" r="6.95"/>
<circle cx="390.9" cy="778.4" r="6.95"/>
<circle cx="395.6" cy="784.2" r="6.95"/>
<circle cx="374.3" cy="791.4" r="6.95"/>
<circle cx="386.1" cy="795.0" r="6.95"/>
<circle cx="393.2" cy="796.1" r="6.95"/>
<circle cx="382.6" cy="804.5" r="6.95"/>
<circle cx="412.2" cy="799.6" r="6.95"/>
<circle cx="405.1" cy="804.5" r="6.95"/>
<circle cx="398.0" cy="809.1" r="6.95"/>
<circle cx="390.9" cy="814.0" r="6.95"/>
<circle cx="386.1" cy="817.5" r="6.95"/>
<circle cx="384.9" cy="824.6" r="6.95"/>
<circle cx="426.5" cy="811.6" r="6.95"/>
<circle cx="429.6" cy="821.1" r="6.95"/>
<circle cx="447.8" cy="809.1" r="6.95"/>
<circle cx="465.6" cy="808.0" r="6.95"/>
<circle cx="466.8" cy="816.2" r="6.95"/>
<circle cx="473.9" cy="798.5" r="6.95"/>
<circle cx="483.4" cy="803.2" r="6.95"/>
<circle cx="485.8" cy="837.1" r="6.95"/>
<circle cx="412.9" cy="840.1" r="6.95"/>
<circle cx="437.9" cy="843.6" r="6.95"/>
<circle cx="382.6" cy="844.8" r="6.95"/>
<circle cx="394.4" cy="846.0" r="6.95"/>
<circle cx="403.9" cy="847.1" r="6.95"/>
<circle cx="456.1" cy="849.4" r="6.95"/>
<circle cx="127.5" cy="856.5" r="6.95"/>
<circle cx="132.2" cy="863.6" r="6.95"/>
<circle cx="163.8" cy="856.5" r="6.95"/>
<circle cx="114.9" cy="889.2" r="6.95"/>
<circle cx="177.3" cy="886.9" r="6.95"/>
<circle cx="211.3" cy="871.9" r="6.95"/>
<circle cx="218.9" cy="863.6" r="6.95"/>
<circle cx="212.9" cy="853.0" r="6.95"/>
<circle cx="218.9" cy="854.1" r="6.95"/>
<circle cx="215.3" cy="899.9" r="6.95"/>
<circle cx="215.7" cy="901.1" r="6.95"/>
<circle cx="235.5" cy="850.6" r="6.95"/>
<circle cx="266.3" cy="856.5" r="6.95"/>
<circle cx="260.4" cy="861.2" r="6.95"/>
<circle cx="259.2" cy="866.5" r="6.95"/>
<circle cx="264.6" cy="868.9" r="6.95"/>
<circle cx="280.5" cy="864.1" r="6.95"/>
<circle cx="280.5" cy="876.6" r="6.95"/>
<circle cx="292.4" cy="861.6" r="6.95"/>
<circle cx="290.0" cy="869.6" r="6.95"/>
<circle cx="300.7" cy="866.5" r="6.95"/>
<circle cx="294.8" cy="875.5" r="6.95"/>
<circle cx="296.0" cy="870.8" r="6.95"/>
<circle cx="313.1" cy="875.0" r="6.95"/>
<circle cx="316.6" cy="878.4" r="6.95"/>
<circle cx="326.8" cy="892.8" r="6.95"/>
<circle cx="332.7" cy="853.0" r="6.95"/>
<circle cx="335.1" cy="865.5" r="6.95"/>
<circle cx="350.5" cy="856.5" r="6.95"/>
<circle cx="351.7" cy="869.6" r="6.95"/>
<circle cx="352.4" cy="873.1" r="6.95"/>
<circle cx="353.6" cy="890.4" r="6.95"/>
<circle cx="360.0" cy="853.0" r="6.95"/>
<circle cx="373.1" cy="854.1" r="6.95"/>
<circle cx="364.8" cy="855.2" r="6.95"/>
<circle cx="396.8" cy="866.5" r="6.95"/>
<circle cx="408.7" cy="870.2" r="6.95"/>
<circle cx="413.4" cy="870.8" r="6.95"/>
<circle cx="423.6" cy="868.4" r="6.95"/>
<circle cx="424.1" cy="871.9" r="6.95"/>
<circle cx="439.5" cy="863.6" r="6.95"/>
<circle cx="444.3" cy="856.5" r="6.95"/>
<circle cx="473.9" cy="854.6" r="6.95"/>
<circle cx="482.2" cy="856.5" r="6.95"/>
<circle cx="423.6" cy="904.0" r="6.95"/>
<circle cx="469.7" cy="933.6" r="6.95"/>
<circle cx="156.0" cy="737.9" r="6.95"/>
<circle cx="182.1" cy="737.4" r="6.95"/>
<circle cx="190.4" cy="738.6" r="6.95"/>
<circle cx="198.7" cy="738.6" r="6.95"/>
<circle cx="219.3" cy="778.6" r="6.95"/>
<circle cx="215.8" cy="795.4" r="6.95"/>
<circle cx="222.9" cy="800.1" r="6.95"/>
<circle cx="201.5" cy="814.4" r="6.95"/>
<circle cx="468.5" cy="799.9" r="6.95"/>
<circle cx="258.8" cy="797.8" r="6.95"/>
<circle cx="358.5" cy="803.8" r="6.95"/>
<circle cx="338.3" cy="826.2" r="6.95"/>
<circle cx="345.4" cy="846.4" r="6.95"/>
<circle cx="376.2" cy="800.1" r="6.95"/>
<circle cx="391.5" cy="808.6" r="6.95"/>
</g>
<polygon points="96.0,741.0 112.3,742.7 128.6,744.4 144.8,746.1 161.1,747.7 177.4,749.3 193.7,750.9 209.9,752.3 226.2,753.7 242.5,754.9 258.8,756.1 275.0,757.1 291.3,758.0 307.6,758.8 323.9,759.5 340.1,760.0 356.4,760.5 372.7,760.9 388.9,761.2 405.2,761.5 421.5,761.8 437.8,762.0 454.1,762.2 470.3,762.4 486.6,762.6 486.6,791.0 470.3,789.2 454.1,787.3 437.8,785.5 421.5,783.7 405.2,782.0 388.9,780.2 372.7,778.5 356.4,776.9 340.1,775.4 323.9,773.9 307.6,772.5 291.3,771.3 275.0,770.1 258.8,769.2 242.5,768.3 226.2,767.5 209.9,766.9 193.7,766.3 177.4,765.8 161.1,765.4 144.8,765.0 128.6,764.6 112.3,764.3 96.0,764.0" fill="#17305f" fill-opacity="0.14"/>
<line x1="96" y1="750.5" x2="485.4" y2="777.4" stroke="#17305f" stroke-width="4.1" stroke-linecap="round"/>
<rect x="81" y="86.1" width="421" height="866.5" fill="none" stroke="#231f20" stroke-width="2.5"/>
<rect x="80" y="519.7" width="423" height="2.6" fill="#231f20"/>
<text x="0" y="0" font-size="29.5" text-anchor="end" transform="translate(67.6,144.3) scale(1,1)">8</text>
<text x="0" y="0" font-size="29.5" text-anchor="end" transform="translate(67.6,245.5) scale(1,1)">6</text>
<text x="0" y="0" font-size="29.5" text-anchor="end" transform="translate(67.6,346.3) scale(1,1)">4</text>
<text x="0" y="0" font-size="29.5" text-anchor="end" transform="translate(67.6,446.7) scale(1,1)">2</text>
<text x="0" y="0" font-size="29.5" text-anchor="end" transform="translate(67.6,515.6) scale(1,1)">0</text>
<text x="0" y="0" font-size="29.5" text-anchor="end" transform="translate(67.6,550.9) scale(1,1)">30</text>
<text x="0" y="0" font-size="29.5" text-anchor="end" transform="translate(67.6,626.1) scale(1,1)">25</text>
<text x="0" y="0" font-size="29.5" text-anchor="end" transform="translate(67.6,701.8) scale(1,1)">20</text>
<text x="0" y="0" font-size="29.5" text-anchor="end" transform="translate(67.6,777.8) scale(1,1)">15</text>
<text x="0" y="0" font-size="29.5" text-anchor="end" transform="translate(67.6,853.4) scale(1,1)">10</text>
<text x="0" y="0" font-size="29.5" text-anchor="end" transform="translate(67.6,929.0) scale(1,1)">5</text>
<text font-size="25" text-anchor="middle" transform="translate(94.0,984.5) scale(1.04,1)">0</text>
<text font-size="25" text-anchor="middle" transform="translate(222.0,984.5) scale(1.04,1)">100</text>
<text font-size="25" text-anchor="middle" transform="translate(349.0,984.5) scale(1.04,1)">200</text>
<text font-size="25" text-anchor="middle" transform="translate(477.0,984.5) scale(1.04,1)">300</text>
<text font-size="29.7" x="63.3" y="1017">Distance from the antenna</text>
<text font-size="29.7" x="446.6" y="1017">(</text>
<text font-size="29.7" font-style="italic" stroke="#231f20" stroke-width="0.7" transform="translate(455.3,1017) scale(1.1,1)">μ</text>
<text font-size="29.7" font-style="italic" stroke="#231f20" stroke-width="0.7" transform="translate(478.8,1017) scale(1.11,1)">m</text>
<text font-size="29.7" x="509.6" y="1017">)</text>
<text font-size="29.7" transform="translate(39,439.5) rotate(-90)">ODMR Contrast (%)</text>
<text font-size="29.7" transform="translate(23.1,826.5) rotate(-90)">FWHM (MHz)</text>
</svg></body></html>
